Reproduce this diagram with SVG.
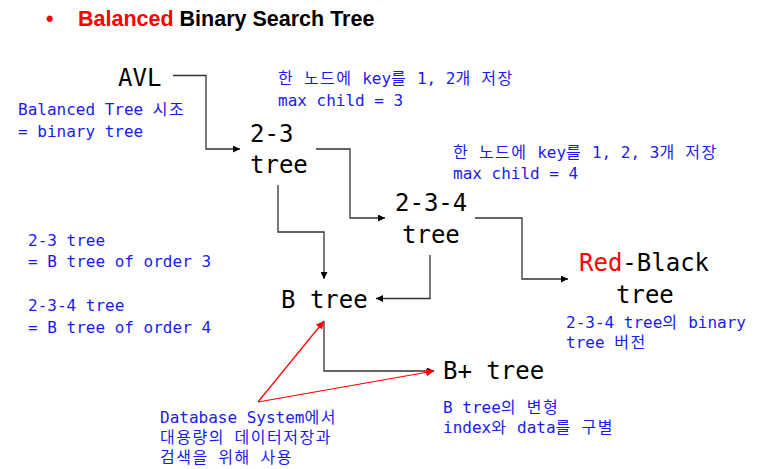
<svg xmlns="http://www.w3.org/2000/svg" width="776" height="469" viewBox="0 0 776 469">
<defs>
<marker id="ah" viewBox="0 0 10 10" refX="10" refY="5" markerWidth="7" markerHeight="7" markerUnits="userSpaceOnUse" orient="auto"><path d="M0,0 L10,5 L0,10 z" fill="#000"/></marker>
<marker id="ahr" viewBox="0 0 10 10" refX="10" refY="5" markerWidth="8" markerHeight="8" markerUnits="userSpaceOnUse" orient="auto"><path d="M0,0 L10,5 L0,10 z" fill="#f00"/></marker>
</defs>
<style>
.n{font-family:"DejaVu Sans Mono","Liberation Mono","Noto Sans CJK KR",monospace;font-size:24px;fill:#000}
.b{font-family:"DejaVu Sans Mono","Liberation Mono","Noto Sans CJK KR",monospace;font-size:16px;fill:#1a1aee}
.k{font-family:"Noto Sans CJK KR",sans-serif;font-size:16px;letter-spacing:1.5px}
.c{fill:none;stroke:#333;stroke-width:1.3}
.r{fill:none;stroke:#f00;stroke-width:1.2}
.t{font-family:"Liberation Sans","Noto Sans CJK KR",sans-serif;font-size:21.5px;font-weight:bold}
</style>
<rect width="776" height="469" fill="#fff"/>
<g id="title">
<text x="46" y="26" class="t" fill="#f00">•</text>
<text x="78" y="26" class="t"><tspan fill="#f00">Balanced</tspan><tspan fill="#000"> Binary Search Tree</tspan></text>
</g>
<g id="connectors">
<polyline class="c" points="173,75.5 206,75.5 206,149 240,149" marker-end="url(#ah)"/>
<polyline class="c" points="316,149 350,149 350,218 385,218" marker-end="url(#ah)"/>
<polyline class="c" points="475,218 522,218 522,279 568,279" marker-end="url(#ah)"/>
<polyline class="c" points="430,255 430,298.5 376,298.5" marker-end="url(#ah)"/>
<polyline class="c" points="278,185 278,232 324,232 324,279" marker-end="url(#ah)"/>
<polyline class="c" points="324,321 324,371 434,371" marker-end="url(#ah)"/>
<line class="r" x1="258" y1="402" x2="324" y2="321" marker-end="url(#ahr)"/>
<line class="r" x1="258" y1="402" x2="434" y2="371" marker-end="url(#ahr)"/>
</g>
<g id="avl"><text x="118" y="86" class="n">AVL</text></g>
<g id="t23"><text x="250" y="142" class="n">2-3</text><text x="250" y="173" class="n">tree</text></g>
<g id="t234"><text x="395" y="211" class="n">2-3-4</text><text x="402" y="243" class="n">tree</text></g>
<g id="rb"><text x="579" y="271" class="n"><tspan fill="#f00">Red</tspan>-Black</text><text x="616" y="303" class="n">tree</text></g>
<g id="btree"><text x="281" y="308" class="n">B tree</text></g>
<g id="bplus"><text x="443" y="379" class="n">B+ tree</text></g>
<g id="notes">
<text x="18" y="115" class="b">Balanced Tree <tspan class="k">시조</tspan></text>
<text x="18" y="137" class="b">= binary tree</text>
<text x="278" y="84" class="b"><tspan class="k">한</tspan> <tspan class="k">노드에</tspan> key<tspan class="k">를</tspan> 1, 2<tspan class="k">개</tspan> <tspan class="k">저장</tspan></text>
<text x="278" y="106" class="b">max child = 3</text>
<text x="453" y="158" class="b"><tspan class="k">한</tspan> <tspan class="k">노드에</tspan> key<tspan class="k">를</tspan> 1, 2, 3<tspan class="k">개</tspan> <tspan class="k">저장</tspan></text>
<text x="453" y="179" class="b">max child = 4</text>
<text x="28" y="246" class="b">2-3 tree</text>
<text x="28" y="267" class="b">= B tree of order 3</text>
<text x="28" y="311" class="b">2-3-4 tree</text>
<text x="28" y="333" class="b">= B tree of order 4</text>
<text x="566" y="328" class="b">2-3-4 tree<tspan class="k">의</tspan> binary</text>
<text x="566" y="348" class="b">tree <tspan class="k">버전</tspan></text>
<text x="160" y="423" class="b">Database System<tspan class="k">에서</tspan></text>
<text x="160" y="443" class="b"><tspan class="k">대용량의</tspan> <tspan class="k">데이터저장과</tspan></text>
<text x="160" y="463" class="b"><tspan class="k">검색을</tspan> <tspan class="k">위해</tspan> <tspan class="k">사용</tspan></text>
<text x="443" y="413" class="b">B tree<tspan class="k">의</tspan> <tspan class="k">변형</tspan></text>
<text x="443" y="433" class="b">index<tspan class="k">와</tspan> data<tspan class="k">를</tspan> <tspan class="k">구별</tspan></text>
</g>
</svg>
